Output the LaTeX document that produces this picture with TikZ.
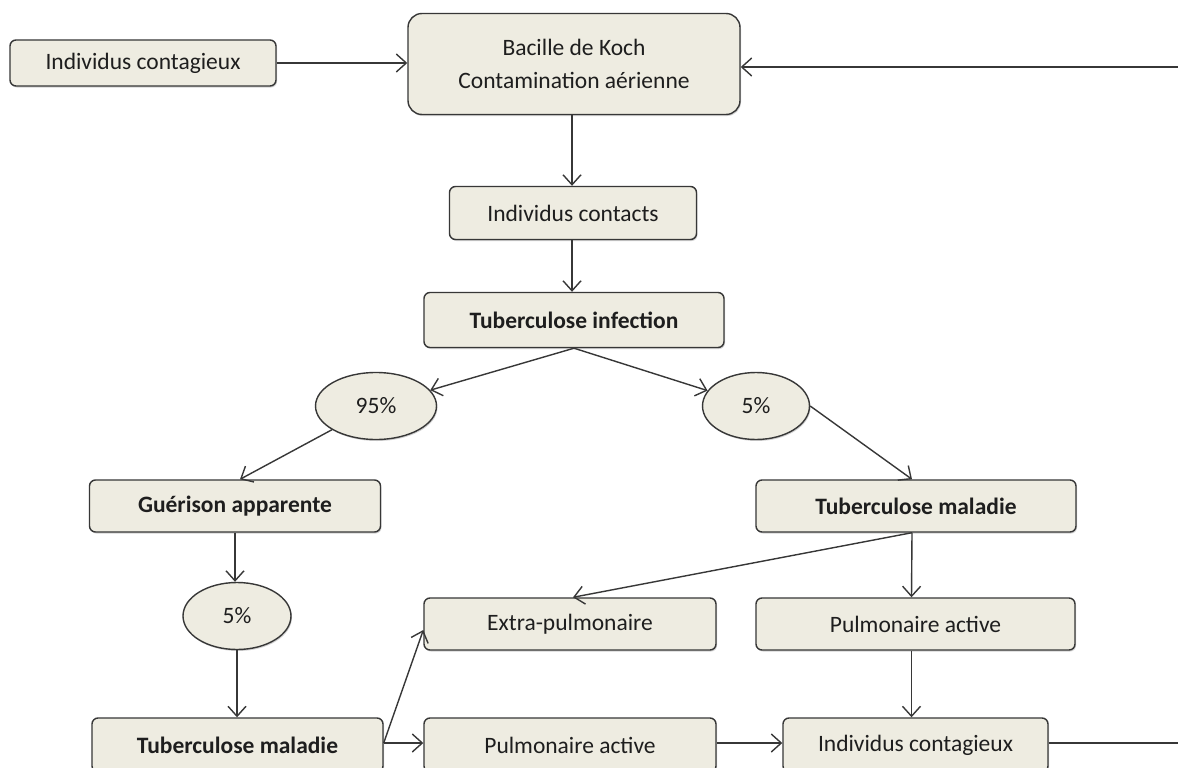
\documentclass[tikz,border=0pt]{standalone}
\usepackage{fontspec}
\setmainfont{Carlito}
\usetikzlibrary{arrows.meta,shapes.geometric,shadows}
\definecolor{boxfill}{RGB}{238,236,225}
\definecolor{edge}{RGB}{55,55,55}
\definecolor{ink}{RGB}{30,30,30}
\begin{document}
\begin{tikzpicture}[x=1pt,y=-1pt,
  base/.style={draw=edge, fill=boxfill, line width=1.4pt, text=ink, inner sep=0pt,
    font=\fontsize{23.5}{33}\selectfont,
    drop shadow={shadow xshift=1pt, shadow yshift=-1.5pt, fill=black!35}},
  box/.style={base, rounded corners=6pt},
  bbox/.style={box, font=\fontsize{23.5}{33}\selectfont\bfseries},
  oval/.style={base, ellipse},
  flow/.style={draw=edge, line width=1.4pt, -{Straight Barb[length=10pt,width=18pt]}},
  link/.style={draw=edge, line width=1.4pt}]
\clip (0,0) rectangle (1178,768);
\fill[white] (0,0) rectangle (1178,768);

% boxes
\node[box, minimum width=266pt, minimum height=46pt] (ictop) at (143,63) {Individus contagieux};
\node[box, rounded corners=14pt, minimum width=332pt, minimum height=101pt, align=center] (bk) at (574,64)
  {Bacille de Koch\\Contamination aérienne};
\node[box, minimum width=247pt, minimum height=53pt] (icont) at (573,213) {Individus contacts};
\node[bbox, minimum width=300pt, minimum height=55pt] (ti) at (574,320) {Tuberculose infection};
\node[oval, minimum width=121pt, minimum height=67pt] (p95) at (376,406) {95\%};
\node[oval, minimum width=107pt, minimum height=67pt] (p5a) at (756,406) {5\%};
\node[bbox, minimum width=291pt, minimum height=52pt] (gue) at (235,506) {Guérison apparente};
\node[bbox, minimum width=320pt, minimum height=52pt] (tmr) at (916,506) {Tuberculose maladie};
\node[oval, minimum width=108pt, minimum height=67pt] (p5b) at (237,616) {5\%};
\node[box, minimum width=292pt, minimum height=52pt] (ep) at (570,624) {Extra-pulmonaire};
\node[box, minimum width=319pt, minimum height=52pt] (par) at (915.5,624) {Pulmonaire active};
\node[bbox, minimum width=291pt, minimum height=54pt] (tml) at (237.5,745) {Tuberculose maladie};
\node[box, minimum width=292pt, minimum height=54pt] (pal) at (570,745) {Pulmonaire active};
\node[box, minimum width=265pt, minimum height=54pt] (icl) at (915.5,745) {Individus contagieux};

% free ends at the right border
\coordinate (rin) at (1178,67);
\coordinate (rout) at (1178,743);

% connectors
\draw[flow] (ictop.east) -- (ictop.east -| bk.west);
\draw[flow] (rin) -- (rin -| bk.east);
\draw[flow] ([xshift=-2pt]bk.south) -- ([xshift=-2pt]bk.south |- icont.north);
\draw[flow] ([xshift=-1pt]icont.south) -- ([xshift=-1pt]icont.south |- ti.north);
\draw[flow] (ti.south) -- (p95);
\draw[flow] (ti.south) -- (p5a);
\draw[flow] (p95) -- ([xshift=5pt]gue.north);
\draw[flow] (p5a.east) -- ([xshift=-4pt]tmr.north);
\draw[flow] (gue.south) -- (gue.south |- p5b.north);
\draw[flow] (p5b) -- (p5b |- tml.north);
\draw[flow] ([xshift=-4pt]tmr.south) -- ([xshift=3pt]ep.north);
\draw[flow] ([xshift=-4pt]tmr.south) -- ([xshift=-4pt]par.north);
\draw[flow] ([xshift=-4pt]par.south) -- ([xshift=-4pt]par.south |- icl.north);
\draw[flow] ([yshift=2pt]tml.east) -- ([yshift=-6pt]ep.west);
\draw[flow] ([yshift=2pt]tml.east) -- ([yshift=2pt]tml.east -| pal.west);
\draw[flow] ([yshift=2pt]pal.east) -- ([yshift=2pt]pal.east -| icl.west);
\draw[link] ([yshift=2pt]icl.east) -- (rout);
\end{tikzpicture}
\end{document}
